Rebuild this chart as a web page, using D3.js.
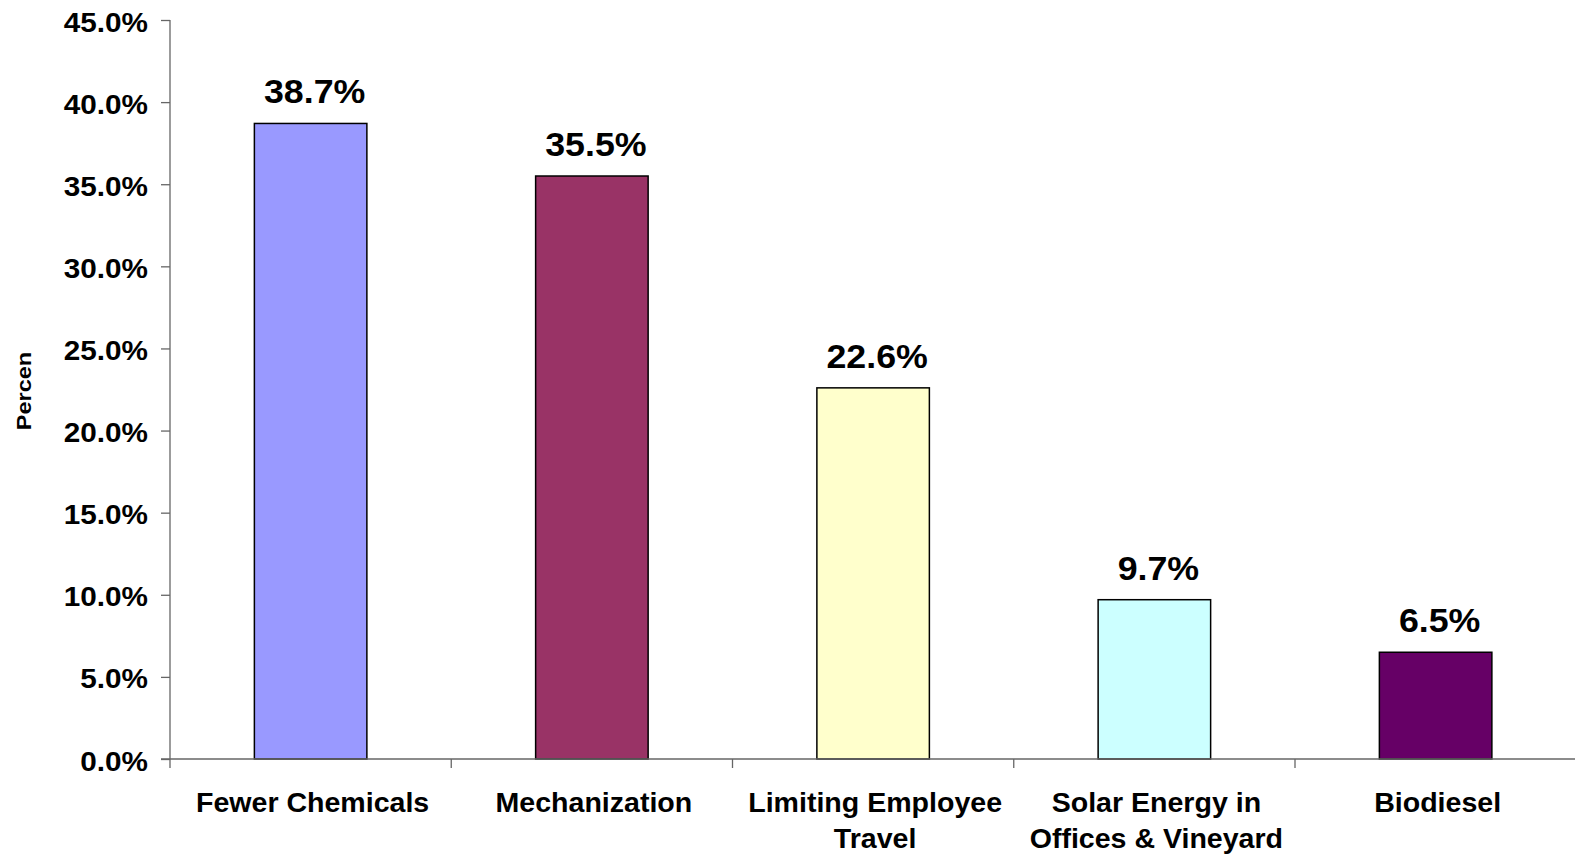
<!DOCTYPE html>
<html>
    <head>
        <meta charset="utf-8">
        <script src="https://d3js.org/d3.v7.min.js"></script>
        <style>
            body { margin: 0; background: #fff; }
            text { font-family: "Liberation Sans", Arial, sans-serif; font-weight: bold; fill: #000; }
        </style>
    </head>
    <body>
        <div id="container"></div>
        <script>
            // Data
            const categories = [
                ["Fewer Chemicals"],
                ["Mechanization"],
                ["Limiting Employee", "Travel"],
                ["Solar Energy in", "Offices & Vineyard"],
                ["Biodiesel"]
            ]
            const values = [38.7, 35.5, 22.6, 9.7, 6.5]
            const colors = ["#9999FF", "#993366", "#FFFFCC", "#CCFFFF", "#660066"]
            const yTicks = [0, 5, 10, 15, 20, 25, 30, 35, 40, 45]
            const yLabel = "Percen"

            const w = 1575
            const h = 857
            const plotLeft = 170
            const plotTop = 20
            const plotBottom = 759
            const bandW = 281.25
            // the original text is a little wider than Liberation Sans
            const stretch = 1.1

            const svg = d3.select("#container")
                .append("svg")
                .attr("width", w)
                .attr("height", h)

            // Scales
            const xScale = d3.scaleBand()
                .domain(d3.range(values.length))
                .range([plotLeft, plotLeft + bandW * values.length])
                .paddingInner(0.6)
                .paddingOuter(0.3)

            const yScale = d3.scaleLinear()
                .domain([0, 45])
                .range([plotBottom, plotTop])

            // Bars
            svg.selectAll("rect")
                .data(values)
                .enter()
                .append("rect")
                .attr("x", (d, i) => xScale(i))
                .attr("y", d => yScale(d))
                .attr("width", xScale.bandwidth())
                .attr("height", d => plotBottom - yScale(d))
                .attr("fill", (d, i) => colors[i])
                .attr("stroke", "#000")
                .attr("stroke-width", 1.5)

            // Value labels
            svg.selectAll(".value")
                .data(values)
                .enter()
                .append("text")
                .attr("class", "value")
                .attr("transform", (d, i) => "translate(" + (xScale(i) + xScale.bandwidth() / 2 + 4) + "," + (yScale(d) - 20) + ")scale(" + stretch + ",1)")
                .attr("text-anchor", "middle")
                .style("font-size", "32.5px")
                .text(d => d.toFixed(1) + "%")

            // Y axis
            const yAxis = d3.axisLeft(yScale)
                .tickValues(yTicks)
                .tickSize(9)
                .tickFormat(d => d.toFixed(1) + "%")

            const gy = svg.append("g")
                .attr("transform", "translate(" + plotLeft + ",0)")
                .call(yAxis)
            gy.select(".domain").attr("d", "M0," + plotTop + "V" + plotBottom)
            gy.selectAll("line, path").attr("stroke", "#666").attr("stroke-width", 1.3)
            gy.selectAll("text")
                .attr("x", 0)
                .attr("transform", "translate(-22,0)scale(" + stretch + ",1)")
                .style("font-size", "27px")
                .style("font-family", "'Liberation Sans', Arial, sans-serif")
                .attr("dy", "0.41em")
                .attr("fill", "#000")

            // X axis (ticks between categories)
            const xEdges = d3.range(values.length + 1).map(i => plotLeft + i * bandW)
            svg.append("line")
                .attr("x1", plotLeft - 9)
                .attr("x2", w + 10)
                .attr("y1", plotBottom)
                .attr("y2", plotBottom)
                .attr("stroke", "#666")
                .attr("stroke-width", 1.3)
            svg.selectAll(".xtick")
                .data(xEdges)
                .enter()
                .append("line")
                .attr("class", "xtick")
                .attr("x1", d => d)
                .attr("x2", d => d)
                .attr("y1", plotBottom)
                .attr("y2", plotBottom + 9)
                .attr("stroke", "#666")
                .attr("stroke-width", 1.3)

            // Category labels
            const catText = svg.selectAll(".cat")
                .data(categories)
                .enter()
                .append("text")
                .attr("class", "cat")
                .attr("text-anchor", "middle")
                .style("font-size", "28px")
                .attr("transform", (d, i) => "translate(" + (xScale(i) + xScale.bandwidth() / 2 + 2) + "," + 812 + ")scale(1.02,1)")
            catText.selectAll("tspan")
                .data(d => d)
                .enter()
                .append("tspan")
                .attr("x", 0)
                .attr("y", (d, j) => j * 36)
                .text(d => d)

            // Y axis label
            svg.append("text")
                .attr("text-anchor", "middle")
                .attr("transform", "translate(31,391)rotate(-90)scale(1.12,1)")
                .style("font-size", "21px")
                .text(yLabel)
        </script>
    </body>
</html>
